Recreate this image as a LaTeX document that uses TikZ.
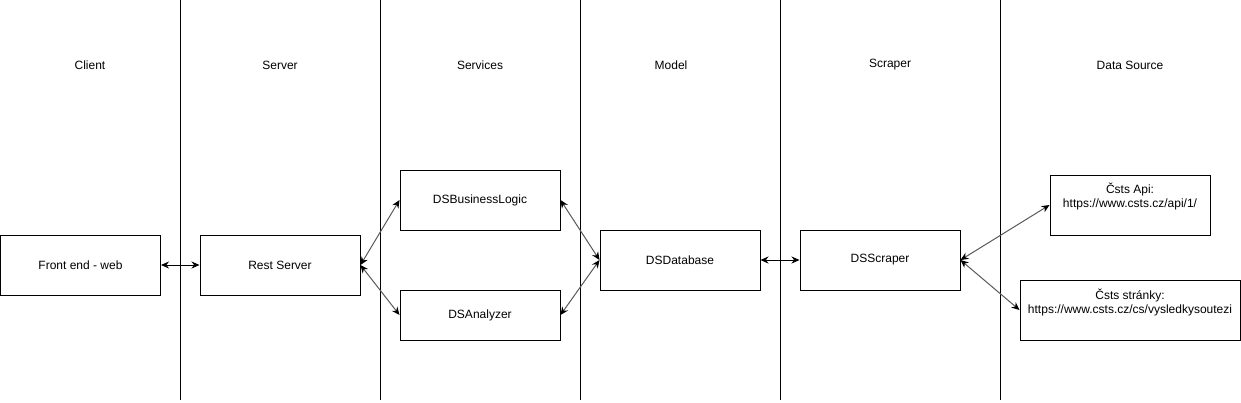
\documentclass[tikz,border=0pt]{standalone}
\usepackage{fontspec}
\setmainfont{Liberation Sans}
\usetikzlibrary{arrows.meta}
\begin{document}
\begin{tikzpicture}[x=1pt,y=-1pt,
  every node/.style={font=\fontsize{12}{14}\selectfont},
  lane/.style={draw=black,line width=1pt},
  hdr/.style={inner sep=0pt},
  box/.style={draw=black,line width=1pt,minimum width=160pt,minimum height=60pt,inner sep=0pt,anchor=center},
  conn/.style={line width=1pt,draw=black!65,{Stealth[length=8pt,width=7pt,black]}-{Stealth[length=8pt,width=7pt,black]}},
  connk/.style={line width=1pt,draw=black,{Stealth[length=8pt,width=7pt]}-{Stealth[length=8pt,width=7pt]}},
  txt/.style={inner sep=0pt,align=center,anchor=north}]
\useasboundingbox (0,0) rectangle (1241,402);
% lanes
\foreach \x/\n in {180/la,380/lb,580/lc,780/ld,1000/le}{
  \coordinate (\n t) at (\x,0);
  \coordinate (\n b) at (\x,400);
  \draw[lane] (\n t) -- (\n b);
}
% headers
\node[hdr] (hclient) at (90,65) {Client};
\node[hdr] (hserver) at (280,65) {Server};
\node[hdr] (hservices) at (480,65) {Services};
\node[hdr] (hmodel) at (671,65) {Model};
\node[hdr] (hscraper) at (890,65) {Scraper};
\node[hdr] (hsource) at (1130,65) {Data Source};
% boxes
\node[box] (front) at (80.5,265) {Front end - web};
\node[box] (rest) at (280,265) {Rest Server};
\node[box] (logic) at (480,200) {DSBusinessLogic};
\node[box,minimum height=50pt] (analyzer) at (480,315) {DSAnalyzer};
\node[box] (db) at (680,260) {DSDatabase};
\node[box] (scraper) at (880,260) {DSScraper};
\node[box] (api) at (1130,205) {};
\node[box,minimum width=220pt] (web) at (1130,310) {};
\node[txt] (apitext) at ([yshift=-8pt]api.north) {Čsts Api:\\https://www.csts.cz/api/1/};
\node[txt] (webtext) at ([yshift=-9pt]web.north) {Čsts stránky:\\https://www.csts.cz/cs/vysledkysoutezi};
% connectors
\draw[connk] (front.east) -- (rest.west);
\draw[conn] (rest.east) -- (logic.west);
\draw[conn] (rest.east) -- (analyzer.west);
\draw[conn] (logic.east) -- (db.west);
\draw[conn] (analyzer.east) -- (db.west);
\draw[connk] (db.east) -- (scraper.west);
\draw[conn] (scraper.east) -- (api.west);
\draw[conn] (scraper.east) -- (web.west);
\end{tikzpicture}
\end{document}
